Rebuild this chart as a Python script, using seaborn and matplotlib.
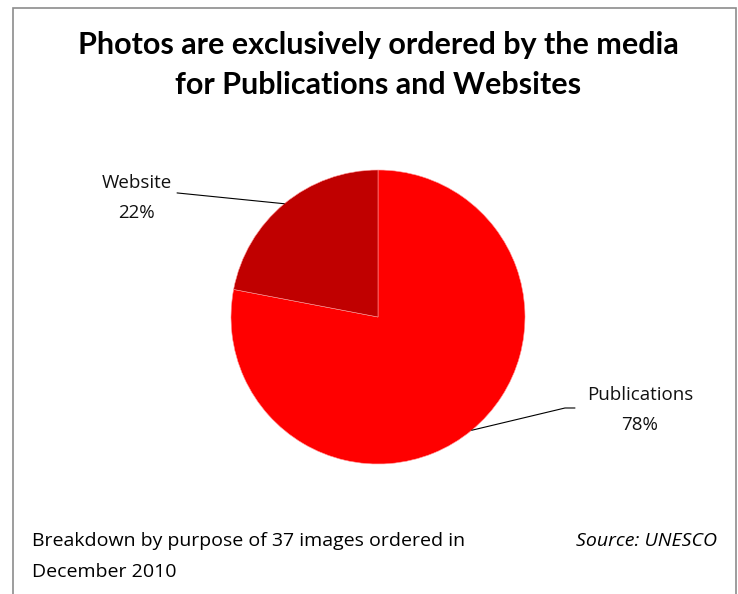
import numpy as np
import seaborn as sns
import matplotlib.pyplot as plt
from matplotlib.patches import Rectangle

# data
categories = ["Publications", "Website"]
shares = [78, 22]
colors = ["#FF0000", "#C00000"]

sns.set_theme(style="white")
plt.rcParams["font.family"] = ["Open Sans", "DejaVu Sans"]

W, H = 738, 594
fig = plt.figure(figsize=(W / 100, H / 100), dpi=100)
fig.patch.set_facecolor("white")

# chart frame
fig.patches.append(Rectangle((13 / W, -0.05), (736 - 13) / W, 1.05 - 8 / H,
                             transform=fig.transFigure, fill=False,
                             edgecolor="#8c8c8c", linewidth=1.2))

# pie axes: centre (378, 317) px, radius 147 px
cx, cy, r = 378, 317, 147
ax = fig.add_axes([(cx - r) / W, (H - cy - r) / H, 2 * r / W, 2 * r / H])
wedges, _ = ax.pie(shares, colors=colors, startangle=90, counterclock=False,
                   radius=1, wedgeprops=dict(edgecolor="#ff9a9a", linewidth=0.4))
ax.set_xlim(-1, 1)
ax.set_ylim(-1, 1)
ax.set_aspect("equal")
ax.axis("off")

# labels with leader lines
label_pos = {"Publications": (1.782, -0.53), "Website": (-1.64, 0.91)}
line_pts = {"Publications": [(1.272, -0.619), (1.34, -0.619)],
            "Website": [(-1.367, 0.844)]}
for w, name, val in zip(wedges, categories, shares):
    mid = np.deg2rad((w.theta1 + w.theta2) / 2)
    edge = (np.cos(mid), np.sin(mid))
    pts = [edge] + line_pts[name]
    ax.plot([p[0] for p in pts], [p[1] for p in pts], color="black",
            linewidth=0.8, clip_on=False)
    tx, ty = label_pos[name]
    ax.text(tx, ty, name, ha="center", va="center", fontsize=13.5,
            color="#111111", clip_on=False)
    ax.text(tx, ty - 0.205, f"{val}%", ha="center", va="center", fontsize=13.5,
            color="#111111", clip_on=False)

# title
for yy, line in [(45, "Photos are exclusively ordered by the media"),
                 (85, "for Publications and Websites")]:
    fig.text(378 / W, 1 - yy / H, line, ha="center", va="center",
             fontsize=22, fontweight="bold", color="black", family="Lato")

# footnotes
fig.text(32 / W, 1 - 541 / H, "Breakdown by purpose of 37 images ordered in",
         ha="left", va="center", fontsize=14, color="black")
fig.text(32 / W, 1 - 572 / H, "December 2010",
         ha="left", va="center", fontsize=14, color="black")
fig.text(717 / W, 1 - 541 / H, "Source: UNESCO",
         ha="right", va="center", fontsize=14, style="italic", color="black")

fig.savefig("out.png", dpi=100, facecolor="white")
